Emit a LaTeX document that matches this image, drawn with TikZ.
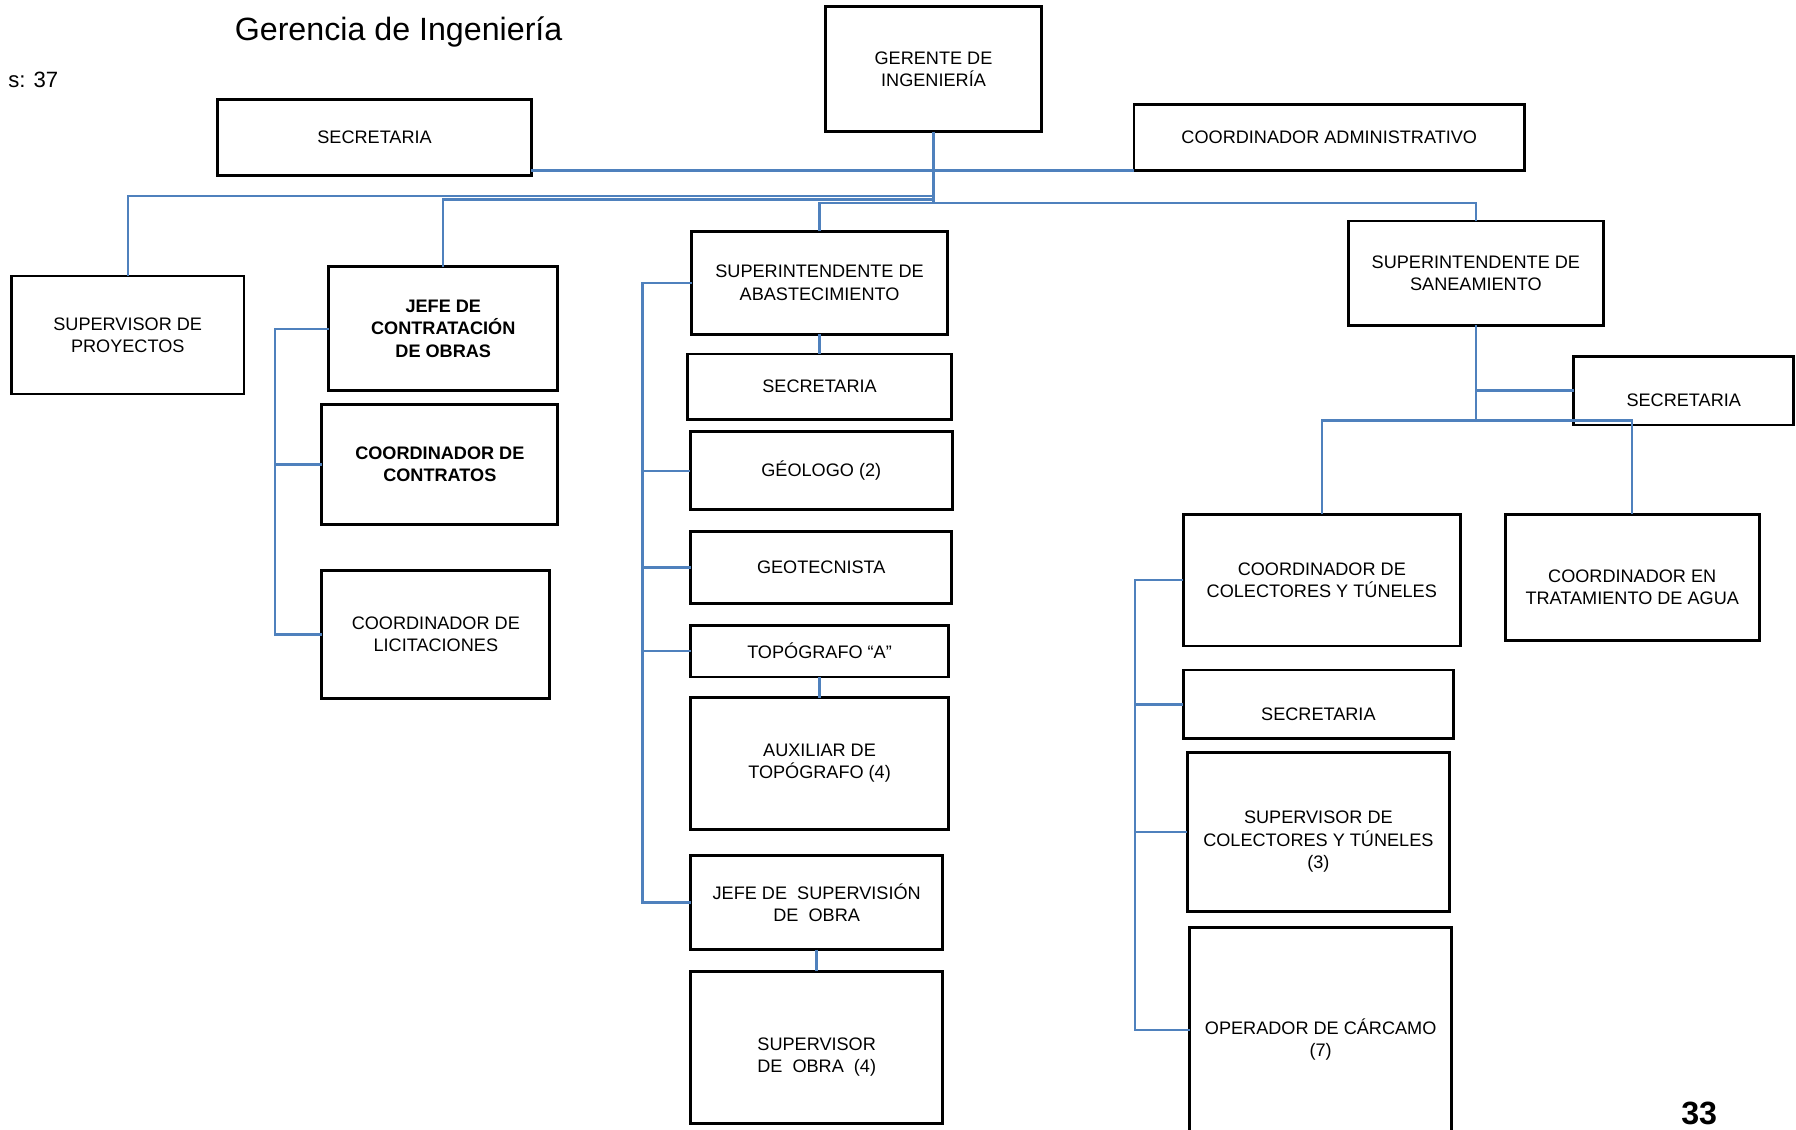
\documentclass[tikz,border=0pt]{standalone}
\usepackage{fontspec}
\setmainfont{Liberation Sans}
\usetikzlibrary{positioning}
\definecolor{orgblue}{RGB}{79,129,189}
\newcommand{\boxfont}{\fontsize{9}{11.1}\selectfont}

\begin{document}
\begin{tikzpicture}[
	box/.style={draw, line width=1.4pt, outer sep=0pt, align=center, inner sep=1pt, font=\boxfont},
	lowtext/.style={align=center, font=\boxfont, yshift=-0.17cm},
	link/.style={draw=orgblue, line width=1.2pt}]

\useasboundingbox (0,0) rectangle (31.36,-19.72);

\node [font=\fontsize{16}{19}\selectfont] (title) at (6.96,-0.56) {Gerencia de Ingeniería};

\node [font=\fontsize{11}{13}\selectfont, anchor=west] (plazas) at (0.02,-1.40) {s: 37};

\node [font=\bfseries\fontsize{16}{19}\selectfont] (page) at (29.67,-19.44) {33};

\node [box, minimum width=3.76cm, minimum height=2.18cm] (gerente) at (16.30,-1.21) {
	GERENTE DE \\ INGENIERÍA};

\node [box, minimum width=5.48cm, minimum height=1.32cm] (sec0) at (6.54,-2.40) {SECRETARIA};

\node [box, minimum width=6.82cm, minimum height=1.16cm] (admin) at (23.21,-2.40) {COORDINADOR ADMINISTRATIVO};

\node [box, minimum width=4.06cm, minimum height=2.06cm] (proy) at (2.23,-5.85) {
	SUPERVISOR DE \\ PROYECTOS};

\node [box, font=\boxfont\bfseries, minimum width=4.00cm, minimum height=2.16cm] (jefe) at (7.74,-5.74) {
	JEFE DE \\ CONTRATACIÓN \\ DE OBRAS};

\node [box, font=\boxfont\bfseries, minimum width=4.12cm, minimum height=2.10cm, below=0.24cm of jefe, xshift=-0.06cm] (contratos) {
	COORDINADOR DE \\ CONTRATOS};

\node [box, minimum width=3.98cm, minimum height=2.24cm, below=0.8cm of contratos, xshift=-0.07cm] (licit) {
	COORDINADOR DE \\ LICITACIONES};

\node [box, minimum width=4.46cm, minimum height=1.80cm] (abast) at (14.31,-4.94) {
	SUPERINTENDENTE DE \\ ABASTECIMIENTO};

\node [box, minimum width=4.60cm, minimum height=1.14cm, below=0.34cm of abast] (secA) {SECRETARIA};

\node [box, minimum width=4.58cm, minimum height=1.36cm, below=0.22cm of secA, xshift=0.03cm] (geol) {GÉOLOGO (2)};

\node [box, minimum width=4.56cm, minimum height=1.26cm, below=0.38cm of geol] (geot) {GEOTECNISTA};

\node [box, minimum width=4.50cm, minimum height=0.90cm, below=0.38cm of geot, xshift=-0.03cm] (topo) {TOPÓGRAFO “A”};

\node [box, minimum width=4.50cm, minimum height=2.30cm, below=0.36cm of topo] (aux) {
	AUXILIAR DE \\ TOPÓGRAFO (4)};

\node [box, minimum width=4.40cm, minimum height=1.64cm, below=0.46cm of aux, xshift=-0.05cm] (jsup) {
	JEFE DE\ \ SUPERVISIÓN \\ DE\ \ OBRA};

\node [box, minimum width=4.40cm, minimum height=2.66cm, below=0.38cm of jsup,
	label={[lowtext]center:SUPERVISOR \\ DE\ \ OBRA\ \ (4)}] (sobra) {};

\node [box, minimum width=4.46cm, minimum height=1.82cm] (sanea) at (25.77,-4.77) {
	SUPERINTENDENTE DE \\ SANEAMIENTO};

\node [box, minimum width=3.84cm, minimum height=1.20cm,
	label={[lowtext]center:SECRETARIA}] (secS) at (29.40,-6.82) {};

\node [box, minimum width=4.84cm, minimum height=2.30cm] (colect) at (23.08,-10.13) {
	COORDINADOR DE \\ COLECTORES Y TÚNELES};

\node [box, minimum width=4.44cm, minimum height=2.20cm,
	label={[lowtext]center:COORDINADOR EN \\ TRATAMIENTO DE AGUA}] (trat) at (28.50,-10.08) {};

\node [box, minimum width=4.72cm, minimum height=1.20cm, below=0.42cm of colect, xshift=-0.06cm,
	label={[lowtext]center:SECRETARIA}] (secC) {};

\node [box, minimum width=4.58cm, minimum height=2.78cm, below=0.24cm of secC,
	label={[lowtext]center:SUPERVISOR DE \\ COLECTORES Y TÚNELES \\ (3)}] (supc) {};

\node [box, minimum width=4.58cm, minimum height=3.56cm, below=0.28cm of supc, xshift=0.04cm,
	label={[lowtext]center:OPERADOR DE CÁRCAMO \\ (7)}] (oper) {};

\draw [link] (gerente.south) -- ++(0,-1.24) coordinate (trunk);
\draw [link] ([yshift=0.08cm]sec0.south east) -| (gerente.south);
\draw [link] (admin.south west) -| (gerente.south);
\draw [link] (proy.north) |- ([yshift=-1.12cm]gerente.south);
\draw [link] (jefe.north) |- ([yshift=-1.18cm]gerente.south);
\draw [link] (abast.north) |- (trunk);
\draw [link] (sanea.north) |- (trunk);

\draw [link] (jefe.west) -- ++(-0.94,0) coordinate (spJ) |- (licit.west);
\draw [link] (contratos.west) -- (contratos.west -| spJ);

\draw [link] (abast.west) -- ++(-0.86,0) coordinate (spA) |- (jsup.west);
\foreach \n in {geol, geot, topo}
	\draw [link] (\n.west) -- (\n.west -| spA);
\path [link] (abast) edge (secA);
\path [link] (topo)  edge (aux);
\path [link] (jsup)  edge (sobra);

\draw [link] (sanea.south) -- ++(0,-1.66) coordinate (jS);
\draw [link] (secS.west) -- (secS.west -| jS);
\draw [link] (colect.north) |- (jS) -| (trat.north);

\draw [link] (colect.west) -- ++(-0.84,0) coordinate (spC) |- (oper.west);
\foreach \n in {secC, supc}
	\draw [link] (\n.west) -- (\n.west -| spC);

\end{tikzpicture}
\end{document}
